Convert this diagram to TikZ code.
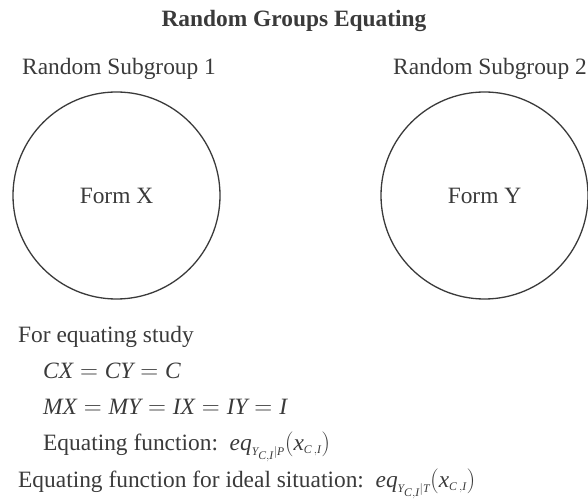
\documentclass[tikz,border=0pt]{standalone}
\usepackage{fontspec}
\setmainfont{Liberation Serif}
\usepackage{xcolor}
\definecolor{ink}{HTML}{3A3A3A}
\usepackage{tikz}
\usetikzlibrary{positioning}

\begin{document}
\begin{tikzpicture}[
  x=1pt,y=1pt,
  txt/.style={inner sep=0pt,text=ink,font=\fontsize{23.4}{28}\selectfont,anchor=base west},
  group/.style={circle,draw=ink,line width=1.3pt,minimum size=207pt,text=ink,font=\fontsize{23.4}{28}\selectfont}
]
\useasboundingbox (0,0) rectangle (588,498);
\node[txt,anchor=base,font=\fontsize{23.4}{28}\selectfont\bfseries] (title) at (294,471) {Random Groups Equating};
\node[group] (formx) at (116.5,302.5) {Form X};
\node[group] (formy) at (484.5,302.5) {Form Y};
\node[txt] (sub1) at (22,423) {Random Subgroup 1};
\node[txt] (sub2) at (393,423) {Random Subgroup 2};
\node[txt] (study) at (18,156) {For equating study};
\node[txt,below right=36pt and 25pt of study.base west,anchor=base west] (lineC) {$\mathit{CX} = \mathit{CY} = \mathit{C}$};
\node[txt,below=36pt of lineC.base west,anchor=base west] (lineI) {$\mathit{MX} = \mathit{MY} = \mathit{IX} = \mathit{IY} = \mathit{I}$};
\node[txt,below=36pt of lineI.base west,anchor=base west] (eqfun) {Equating function:~~$\mathit{eq}_{\scriptscriptstyle\mathit{Y}_{\mathit{C,I}}|\mathit{P}}\mathrm{(}\mathit{x}_{\scriptscriptstyle\mathit{C\,,I}}\mathrm{)}$};
\node[txt,below left=37pt and 25pt of eqfun.base west,anchor=base west] (eqideal) {Equating function for ideal situation:~~$\mathit{eq}_{\scriptscriptstyle\mathit{Y}_{\mathit{C,I}}|\mathit{T}}\mathrm{(}\mathit{x}_{\scriptscriptstyle\mathit{C\,,I}}\mathrm{)}$};
\end{tikzpicture}
\end{document}
